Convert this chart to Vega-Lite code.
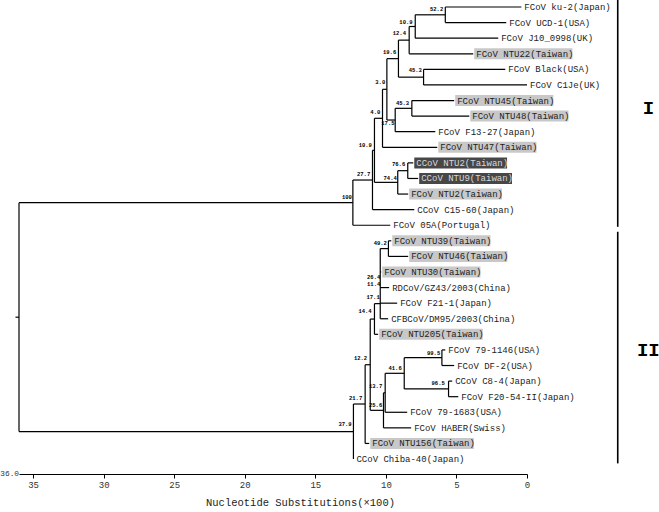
{
  "$schema": "https://vega.github.io/schema/vega-lite/v6.json",
  "width": 508,
  "height": 474,
  "autosize": {"type": "none"},
  "padding": {"left": 19, "top": 0, "right": 132, "bottom": 38},
  "background": "white",
  "config": {"view": {"stroke": null}},
  "datasets": {
    "leaves": [
      {"label": "FCoV ku-2(Japan)", "tip": 0.40, "row": 1, "hl": "none"},
      {"label": "FCoV UCD-1(USA)", "tip": 1.47, "row": 2, "hl": "none"},
      {"label": "FCoV J10_0998(UK)", "tip": 2.04, "row": 3, "hl": "none"},
      {"label": "FCoV NTU22(Taiwan)", "tip": 3.81, "row": 4, "hl": "light"},
      {"label": "FCoV Black(USA)", "tip": 1.54, "row": 5, "hl": "none"},
      {"label": "FCoV C1Je(UK)", "tip": 0.0, "row": 6, "hl": "none"},
      {"label": "FCoV NTU45(Taiwan)", "tip": 5.16, "row": 7, "hl": "light"},
      {"label": "FCoV NTU48(Taiwan)", "tip": 4.09, "row": 8, "hl": "light"},
      {"label": "FCoV F13-27(Japan)", "tip": 6.50, "row": 9, "hl": "none"},
      {"label": "FCoV NTU47(Taiwan)", "tip": 6.36, "row": 10, "hl": "light"},
      {"label": "CCoV NTU2(Taiwan)", "tip": 8.06, "row": 11, "hl": "dark"},
      {"label": "CCoV NTU9(Taiwan)", "tip": 7.71, "row": 12, "hl": "dark"},
      {"label": "FCoV NTU2(Taiwan)", "tip": 8.42, "row": 13, "hl": "light"},
      {"label": "CCoV C15-60(Japan)", "tip": 7.99, "row": 14, "hl": "none"},
      {"label": "FCoV 05A(Portugal)", "tip": 9.69, "row": 15, "hl": "none"},
      {"label": "FCoV NTU39(Taiwan)", "tip": 9.62, "row": 16, "hl": "light"},
      {"label": "FCoV NTU46(Taiwan)", "tip": 8.42, "row": 17, "hl": "light"},
      {"label": "FCoV NTU30(Taiwan)", "tip": 10.33, "row": 18, "hl": "light"},
      {"label": "RDCoV/GZ43/2003(China)", "tip": 9.77, "row": 19, "hl": "none"},
      {"label": "FCoV F21-1(Japan)", "tip": 9.20, "row": 20, "hl": "none"},
      {"label": "CFBCoV/DM95/2003(China)", "tip": 9.84, "row": 21, "hl": "none"},
      {"label": "FCoV NTU205(Taiwan)", "tip": 10.55, "row": 22, "hl": "light"},
      {"label": "FCoV 79-1146(USA)", "tip": 5.79, "row": 23, "hl": "none"},
      {"label": "FCoV DF-2(USA)", "tip": 5.16, "row": 24, "hl": "none"},
      {"label": "CCoV C8-4(Japan)", "tip": 5.30, "row": 25, "hl": "none"},
      {"label": "FCoV F20-54-II(Japan)", "tip": 4.87, "row": 26, "hl": "none"},
      {"label": "FCoV 79-1683(USA)", "tip": 8.49, "row": 27, "hl": "none"},
      {"label": "FCoV HABER(Swiss)", "tip": 8.21, "row": 28, "hl": "none"},
      {"label": "FCoV NTU156(Taiwan)", "tip": 11.18, "row": 29, "hl": "light"},
      {"label": "CCoV Chiba-40(Japan)", "tip": 12.30, "row": 30, "hl": "none"}
    ],
    "segs": [
      {"x": 36.25, "x2": 36, "y": 20.9, "y2": 20.9},
      {"x": 36, "x2": 36, "y": 13.55, "y2": 28.24},
      {"x": 36, "x2": 12.34, "y": 13.55, "y2": 13.55},
      {"x": 36, "x2": 12.30, "y": 28.24, "y2": 28.24},
      {"x": 12.34, "x2": 12.34, "y": 12.10, "y2": 15},
      {"x": 10.95, "x2": 10.95, "y": 10.195, "y2": 14},
      {"x": 10.81, "x2": 10.81, "y": 8.14, "y2": 12.25},
      {"x": 10.24, "x2": 10.24, "y": 6.28, "y2": 10},
      {"x": 9.93, "x2": 9.93, "y": 4.3125, "y2": 8.25},
      {"x": 9.11, "x2": 9.11, "y": 3.125, "y2": 5.5},
      {"x": 8.35, "x2": 8.35, "y": 2.25, "y2": 4},
      {"x": 7.92, "x2": 7.92, "y": 1.5, "y2": 3},
      {"x": 5.79, "x2": 5.79, "y": 1, "y2": 2},
      {"x": 7.33, "x2": 7.33, "y": 5, "y2": 6},
      {"x": 9.34, "x2": 9.34, "y": 7.5, "y2": 9},
      {"x": 8.16, "x2": 8.16, "y": 7, "y2": 8},
      {"x": 9.16, "x2": 9.16, "y": 11.5, "y2": 13},
      {"x": 8.45, "x2": 8.45, "y": 11, "y2": 12},
      {"x": 12.30, "x2": 12.30, "y": 26.47, "y2": 30},
      {"x": 11.47, "x2": 11.47, "y": 23.95, "y2": 29},
      {"x": 11.11, "x2": 11.11, "y": 21.02, "y2": 26.875},
      {"x": 10.81, "x2": 10.81, "y": 20.03, "y2": 22},
      {"x": 10.40, "x2": 10.40, "y": 16.5, "y2": 21},
      {"x": 9.82, "x2": 9.82, "y": 16, "y2": 17},
      {"x": 10.17, "x2": 10.17, "y": 25.75, "y2": 28},
      {"x": 10.05, "x2": 10.05, "y": 24.5, "y2": 27},
      {"x": 8.70, "x2": 8.70, "y": 23.5, "y2": 25.5},
      {"x": 6.03, "x2": 6.03, "y": 23, "y2": 24},
      {"x": 5.56, "x2": 5.56, "y": 25, "y2": 26},
      {"x": 12.34, "x2": 10.95, "y": 12.10, "y2": 12.10},
      {"x": 12.34, "x2": 9.69, "y": 15, "y2": 15},
      {"x": 10.95, "x2": 10.81, "y": 10.195, "y2": 10.195},
      {"x": 10.95, "x2": 7.99, "y": 14, "y2": 14},
      {"x": 10.81, "x2": 10.24, "y": 8.14, "y2": 8.14},
      {"x": 10.81, "x2": 9.16, "y": 12.25, "y2": 12.25},
      {"x": 10.24, "x2": 9.93, "y": 6.28, "y2": 6.28},
      {"x": 10.24, "x2": 6.36, "y": 10, "y2": 10},
      {"x": 9.93, "x2": 9.11, "y": 4.3125, "y2": 4.3125},
      {"x": 9.93, "x2": 9.34, "y": 8.25, "y2": 8.25},
      {"x": 9.11, "x2": 8.35, "y": 3.125, "y2": 3.125},
      {"x": 9.11, "x2": 7.33, "y": 5.5, "y2": 5.5},
      {"x": 8.35, "x2": 7.92, "y": 2.25, "y2": 2.25},
      {"x": 8.35, "x2": 3.81, "y": 4, "y2": 4},
      {"x": 7.92, "x2": 5.79, "y": 1.5, "y2": 1.5},
      {"x": 7.92, "x2": 2.04, "y": 3, "y2": 3},
      {"x": 5.79, "x2": 0.40, "y": 1, "y2": 1},
      {"x": 5.79, "x2": 1.47, "y": 2, "y2": 2},
      {"x": 7.33, "x2": 1.54, "y": 5, "y2": 5},
      {"x": 7.33, "x2": 0.0, "y": 6, "y2": 6},
      {"x": 9.34, "x2": 8.16, "y": 7.5, "y2": 7.5},
      {"x": 9.34, "x2": 6.50, "y": 9, "y2": 9},
      {"x": 8.16, "x2": 5.16, "y": 7, "y2": 7},
      {"x": 8.16, "x2": 4.09, "y": 8, "y2": 8},
      {"x": 9.16, "x2": 8.45, "y": 11.5, "y2": 11.5},
      {"x": 9.16, "x2": 8.42, "y": 13, "y2": 13},
      {"x": 8.45, "x2": 8.06, "y": 11, "y2": 11},
      {"x": 8.45, "x2": 7.71, "y": 12, "y2": 12},
      {"x": 12.30, "x2": 11.47, "y": 26.47, "y2": 26.47},
      {"x": 11.47, "x2": 11.11, "y": 23.95, "y2": 23.95},
      {"x": 11.47, "x2": 11.18, "y": 29, "y2": 29},
      {"x": 11.11, "x2": 10.81, "y": 21.02, "y2": 21.02},
      {"x": 11.11, "x2": 10.17, "y": 26.875, "y2": 26.875},
      {"x": 10.81, "x2": 10.40, "y": 20.03, "y2": 20.03},
      {"x": 10.81, "x2": 10.55, "y": 22, "y2": 22},
      {"x": 10.40, "x2": 9.82, "y": 16.5, "y2": 16.5},
      {"x": 10.40, "x2": 10.33, "y": 18, "y2": 18},
      {"x": 10.40, "x2": 9.77, "y": 19, "y2": 19},
      {"x": 10.40, "x2": 9.20, "y": 20, "y2": 20},
      {"x": 10.40, "x2": 9.84, "y": 21, "y2": 21},
      {"x": 9.82, "x2": 9.62, "y": 16, "y2": 16},
      {"x": 9.82, "x2": 8.42, "y": 17, "y2": 17},
      {"x": 10.17, "x2": 10.05, "y": 25.75, "y2": 25.75},
      {"x": 10.17, "x2": 8.21, "y": 28, "y2": 28},
      {"x": 10.05, "x2": 8.70, "y": 24.5, "y2": 24.5},
      {"x": 10.05, "x2": 8.49, "y": 27, "y2": 27},
      {"x": 8.70, "x2": 6.03, "y": 23.5, "y2": 23.5},
      {"x": 8.70, "x2": 5.56, "y": 25.5, "y2": 25.5},
      {"x": 6.03, "x2": 5.79, "y": 23, "y2": 23},
      {"x": 6.03, "x2": 5.16, "y": 24, "y2": 24},
      {"x": 5.56, "x2": 5.30, "y": 25, "y2": 25},
      {"x": 5.56, "x2": 4.87, "y": 26, "y2": 26}
    ],
    "boots": [
      {"v": "52.2", "x": 5.94, "y": 1.147},
      {"v": "10.9", "x": 8.11, "y": 1.94},
      {"v": "12.4", "x": 8.58, "y": 2.69},
      {"v": "19.6", "x": 9.27, "y": 3.91},
      {"v": "45.3", "x": 7.45, "y": 5.04},
      {"v": "3.0", "x": 10.05, "y": 5.79},
      {"v": "45.3", "x": 8.35, "y": 7.14},
      {"v": "4.0", "x": 10.40, "y": 7.72},
      {"v": "17.5", "x": 9.39, "y": 8.46},
      {"v": "10.9", "x": 10.99, "y": 9.85},
      {"v": "76.6", "x": 8.63, "y": 11.10},
      {"v": "74.4", "x": 9.23, "y": 11.94},
      {"v": "27.7", "x": 11.11, "y": 11.71},
      {"v": "100", "x": 12.41, "y": 13.21},
      {"v": "49.2", "x": 9.93, "y": 16.12},
      {"v": "26.4", "x": 10.40, "y": 18.32},
      {"v": "11.4", "x": 10.40, "y": 18.77},
      {"v": "17.1", "x": 10.44, "y": 19.60},
      {"v": "14.4", "x": 11.01, "y": 20.50},
      {"v": "12.2", "x": 11.33, "y": 23.52},
      {"v": "99.5", "x": 6.15, "y": 23.20},
      {"v": "41.6", "x": 8.88, "y": 24.16},
      {"v": "96.5", "x": 5.83, "y": 25.12},
      {"v": "13.7", "x": 10.26, "y": 25.31},
      {"v": "25.6", "x": 10.26, "y": 26.53},
      {"v": "21.7", "x": 11.68, "y": 26.08},
      {"v": "37.9", "x": 12.43, "y": 27.75}
    ],
    "clades": [
      {"name": "I", "x": -6.43, "y": 0.55, "y2": 15.1, "lx": -8.6, "ly": 7.48},
      {"name": "II", "x": -6.43, "y": 15.42, "y2": 30.28, "lx": -8.6, "ly": 23.0}
    ]
  },
  "layer": [
    {
      "data": {"name": "leaves"},
      "transform": [{"filter": "datum.hl != 'none'"}],
      "mark": {
        "type": "rect",
        "xOffset": 1,
        "x2Offset": {"expr": "length(datum.label) * 5.4 + 2"},
        "yOffset": -5.5,
        "y2Offset": 5.5
      },
      "encoding": {
        "x": {"field": "tip", "type": "quantitative", "scale": {"domain": [36, 0], "nice": false, "zero": false}, "axis": {
          "values": [35, 30, 25, 20, 15, 10, 5, 0],
          "title": "Nucleotide Substitutions(×100)",
          "grid": false,
          "domainColor": "#000000",
          "domainWidth": 1,
          "tickColor": "#000000",
          "tickSize": 4,
          "labelFont": "Liberation Mono",
          "labelFontSize": 9,
          "labelColor": "#333333",
          "labelPadding": 2,
          "labelFlush": false,
          "titleFont": "Liberation Mono",
          "titleFontSize": 10.5,
          "titleFontWeight": "normal",
          "titleColor": "#222222",
          "titleX": 281,
          "titleY": 28,
          "titleBaseline": "middle",
          "titleAlign": "center"
        }},
        "x2": {"field": "tip"},
        "y": {"field": "row", "type": "quantitative", "scale": {"domain": [0.55, 30.96], "reverse": true, "nice": false, "zero": false}, "axis": null},
        "y2": {"field": "row"},
        "color": {"condition": {"test": "datum.hl == 'dark'", "value": "#474747"}, "value": "#c8c8c8"}
      }
    },
    {
      "data": {"name": "segs"},
      "mark": {"type": "rule", "color": "#000000", "strokeWidth": 1.2},
      "encoding": {
        "x": {"field": "x", "type": "quantitative"},
        "x2": {"field": "x2"},
        "y": {"field": "y", "type": "quantitative"},
        "y2": {"field": "y2"}
      }
    },
    {
      "data": {"name": "leaves"},
      "mark": {"type": "text", "align": "left", "baseline": "middle", "dx": 3, "font": "Liberation Mono", "fontSize": 9},
      "encoding": {
        "x": {"field": "tip", "type": "quantitative"},
        "y": {"field": "row", "type": "quantitative"},
        "text": {"field": "label"},
        "color": {"condition": {"test": "datum.hl == 'dark'", "value": "#d8d8d8"}, "value": "#222222"}
      }
    },
    {
      "data": {"name": "boots"},
      "mark": {"type": "text", "align": "right", "baseline": "middle", "font": "Liberation Mono", "fontSize": 5.5, "fontWeight": "bold", "color": "#000000"},
      "encoding": {
        "x": {"field": "x", "type": "quantitative"},
        "y": {"field": "y", "type": "quantitative"},
        "text": {"field": "v"}
      }
    },
    {
      "data": {"name": "clades"},
      "mark": {"type": "rule", "color": "#000000", "strokeWidth": 1.6},
      "encoding": {
        "x": {"field": "x", "type": "quantitative"},
        "y": {"field": "y", "type": "quantitative"},
        "y2": {"field": "y2"}
      }
    },
    {
      "data": {"name": "clades"},
      "mark": {"type": "text", "align": "center", "baseline": "middle", "font": "Liberation Mono", "fontSize": 19, "fontWeight": "bold", "color": "#000000"},
      "encoding": {
        "x": {"field": "lx", "type": "quantitative"},
        "y": {"field": "ly", "type": "quantitative"},
        "text": {"field": "name"}
      }
    },
    {
      "data": {"values": [{"t": "36.0"}]},
      "mark": {"type": "text", "align": "right", "baseline": "middle", "dx": 0, "font": "Liberation Mono", "fontSize": 7.8, "color": "#333333"},
      "encoding": {
        "x": {"datum": 36, "type": "quantitative"},
        "y": {"datum": 30.96, "type": "quantitative"},
        "text": {"field": "t"}
      }
    }
  ]
}
